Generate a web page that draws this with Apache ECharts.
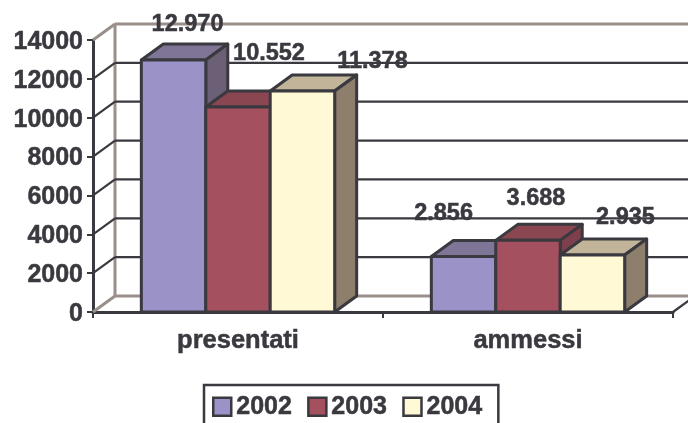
<!DOCTYPE html>
<html>
<head>
<meta charset="utf-8">
<style>
html,body{margin:0;padding:0;background:#fff;overflow:hidden;}
#chart{width:688px;height:423px;}
</style>
<script src="https://cdn.jsdelivr.net/npm/echarts@6/dist/echarts.min.js"></script>
</head>
<body>
<div id="chart"></div>
<script>
var categories = ["presentati", "ammessi"];
var years = ["2002", "2003", "2004"];
var values2002 = [12970, 2856];
var values2003 = [10552, 3688];
var values2004 = [11378, 2935];
var wallTicks = [0, 2000, 4000, 6000, 8000, 10000, 12000, 14000];

//label shift from the top middle of the bar front, set by hand in the original
var labelShift = [
	[[14, -35], [-20, -42.5]],
	[[31, -53], [8, -42]],
	[[70, -29], [33, -37]]
];
var faceColors = [
	{front: "#9b93c7", top: "#7f7596", side: "#6b6075"},
	{front: "#a5505f", top: "#8a4651", side: "#7e3f4c"},
	{front: "#fff9d6", top: "#c2b499", side: "#8e7e6c"}
];
var depthX = 22, depthY = -16;
var inkColor = "#39393f";
var wallColor = "#9a8f8b";
var fontName = "'Liberation Sans', Arial, sans-serif";

function dotted(v) {
	return String(v).replace(/\B(?=(\d{3})+$)/g, ".");
}

function face(points, fill) {
	return {
		type: "polygon",
		shape: {points: points},
		style: {fill: fill, stroke: inkColor, lineWidth: 3, lineJoin: "round"}
	};
}

function barItem(s) {
	return function (params, api) {
		var idx = api.value(0);
		var val = api.value(1);
		var top = api.coord([idx, val]);
		var base = api.coord([idx, 0]);
		var w = api.size([1, 0])[0] / 4.5;
		var x0 = top[0] - 1.5 * w + s * w;
		var x1 = x0 + w;
		var c = faceColors[s];
		var shift = labelShift[s][idx];
		return {
			type: "group",
			children: [
				face([[x0, top[1]], [x1, top[1]], [x1 + depthX, top[1] + depthY], [x0 + depthX, top[1] + depthY]], c.top),
				face([[x1, top[1]], [x1 + depthX, top[1] + depthY], [x1 + depthX, base[1] + depthY], [x1, base[1]]], c.side),
				face([[x0, top[1]], [x1, top[1]], [x1, base[1]], [x0, base[1]]], c.front),
				{
					type: "text",
					z2: 50,
					style: {
						text: dotted(val),
						x: x0 + w / 2 + shift[0],
						y: top[1] + shift[1],
						align: "center",
						verticalAlign: "middle",
						fill: inkColor,
						stroke: inkColor,
						lineWidth: 0.5,
						font: "bold 23.5px " + fontName
					}
				}
			]
		};
	};
}

function wallItem(params, api) {
	var val = api.value(0);
	var p = api.coord([0, val]);
	var left = p[0] - api.size([1, 0])[0] / 2;
	var right = left + api.size([1, 0])[0] * 2;
	var edge = val === 0 || val === wallTicks[wallTicks.length - 1];
	var color = edge ? wallColor : inkColor;
	var lw = edge ? 3 : 2.2;
	var children = [
		{type: "line", shape: {x1: left + depthX, y1: p[1] + depthY, x2: right + depthX, y2: p[1] + depthY}, style: {stroke: color, lineWidth: lw}},
		{type: "line", shape: {x1: left, y1: p[1], x2: left + depthX, y2: p[1] + depthY}, style: {stroke: color, lineWidth: lw}}
	];
	if (val === 0) {
		children.push({type: "line", shape: {x1: right, y1: p[1], x2: right + depthX, y2: p[1] + depthY}, style: {stroke: inkColor, lineWidth: 2.2}});
		var t = api.coord([0, wallTicks[wallTicks.length - 1]]);
		children.push({type: "line", shape: {x1: left + depthX, y1: p[1] + depthY, x2: left + depthX, y2: t[1] + depthY}, style: {stroke: wallColor, lineWidth: 3}});
	}
	return {type: "group", children: children};
}

function pairs(values) {
	var res = [];
	for (var i = 0; i < values.length; i++) {
		res.push([i, values[i]]);
	}
	return res;
}

function wallData() {
	var res = [];
	for (var i = 0; i < wallTicks.length; i++) {
		res.push([wallTicks[i]]);
	}
	return res;
}

var yearValues = [values2002, values2003, values2004];
var series = [{
	name: "wall",
	type: "custom",
	silent: true,
	coordinateSystem: "cartesian2d",
	renderItem: wallItem,
	encode: {y: 0},
	data: wallData(),
	z: 1
}];
var legendData = [];
for (var s = 0; s < years.length; s++) {
	series.push({
		name: years[s],
		type: "custom",
		coordinateSystem: "cartesian2d",
		renderItem: barItem(s),
		encode: {x: 0, y: 1},
		itemStyle: {color: faceColors[s].front},
		data: pairs(yearValues[s]),
		z: 3
	});
	legendData.push({
		name: years[s],
		icon: "rect",
		itemStyle: {color: faceColors[s].front, borderColor: inkColor, borderWidth: 2.5}
	});
}

var myChart = echarts.init(document.getElementById("chart"), null, {renderer: "canvas"});
var option = {
	animation: false,
	backgroundColor: "#fff",
	grid: {left: 93, top: 40, width: 580, height: 272, containLabel: false},
	xAxis: {
		type: "category",
		data: categories,
		axisLine: {lineStyle: {color: inkColor, width: 3}},
		axisTick: {show: true, length: 6, lineStyle: {color: inkColor, width: 2}},
		axisLabel: {color: inkColor, fontFamily: fontName, fontWeight: "bold", fontSize: 25.5, margin: 16, interval: 0,
			textBorderColor: inkColor, textBorderWidth: 0.5}
	},
	yAxis: {
		type: "value",
		min: 0,
		max: 14000,
		interval: 2000,
		splitLine: {show: false},
		axisLine: {show: true, lineStyle: {color: inkColor, width: 3}},
		axisTick: {show: true, length: 6, lineStyle: {color: inkColor, width: 2}},
		axisLabel: {color: inkColor, fontFamily: fontName, fontWeight: "bold", fontSize: 25, margin: 10,
			verticalAlign: "top",
			lineHeight: 4,
			textBorderColor: inkColor, textBorderWidth: 0.5,
			formatter: function (v) { return String(v); }}
	},
	legend: {
		data: legendData,
		left: 204,
		top: 385,
		orient: "horizontal",
		itemWidth: 18,
		itemHeight: 18,
		itemGap: 15,
		padding: [9, 16, 14, 8],
		borderColor: inkColor,
		borderWidth: 2.5,
		selectedMode: false,
		textStyle: {color: inkColor, fontFamily: fontName, fontWeight: "bold", fontSize: 25,
			textBorderColor: inkColor, textBorderWidth: 0.5}
	},
	series: series
};
myChart.setOption(option, true);
</script>
</body>
</html>
